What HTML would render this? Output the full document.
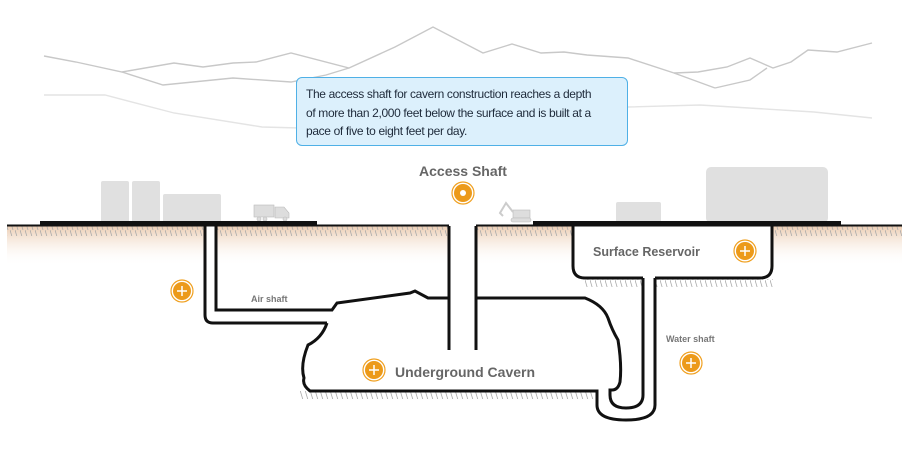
<!DOCTYPE html>
<html><head><meta charset="utf-8"><style>
html,body{margin:0;padding:0;background:#fff;}
svg{display:block;font-family:"Liberation Sans",sans-serif;}
.tip{position:absolute;left:296px;top:77px;width:314px;height:53px;padding:7px 7px 7px 9px;background:#dcf0fc;border:1px solid #4fb0e6;border-radius:6px;font:12px/18.5px "Liberation Sans",sans-serif;color:#1e2a3a;letter-spacing:-0.35px;white-space:nowrap}
</style></head><body>
<div style="position:relative;width:909px;height:468px;overflow:hidden">
<svg width="909" height="468" viewBox="0 0 909 468">
<defs>
<linearGradient id="soil" x1="0" y1="0" x2="0" y2="1"><stop offset="0" stop-color="#eccdb3"/><stop offset="1" stop-color="#fff" stop-opacity="0"/></linearGradient>
<pattern id="hatch" width="5" height="10" patternUnits="userSpaceOnUse"><line x1="0" y1="0" x2="3" y2="10" stroke="#aaa" stroke-width="0.8"/></pattern>
<g id="ic"><circle r="11" fill="#fff" stroke="#f0a020" stroke-width="1.2"/><circle r="9" fill="#ec9a1a"/><path d="M-5 0H5M0 -5V5" stroke="#fff" stroke-width="1.5"/></g>
</defs>
<g fill="none" stroke="#c8c8c8" stroke-width="1.4">
<polyline points="44,56 76,62 122,72 174,63 203,67 233,63 256,62 291,53 349,68 395,47 433,27 483,53 512,44 541,53 564,52 587,55 628,58 674,73 715,88"/>
<polyline points="674,73 698,72 727,67 750,58 773,68 791,62 808,50 837,52 872,43"/>
<polyline points="715,88 750,80 767,68"/>
<polyline points="122,72 163,85 233,78 291,82 326,75 349,68"/>
</g>
<polyline fill="none" stroke="#e4e4e4" stroke-width="1.4" points="44,95 105,95 174,113 262,127 300,128 628,107 700,105 814,112 872,118"/>
<rect x="7" y="226" width="895" height="40" fill="url(#soil)"/>
<rect x="7" y="226" width="895" height="10" fill="url(#hatch)"/>
<rect x="300" y="391" width="300" height="8" fill="url(#hatch)"/>
<rect x="583" y="279" width="190" height="8" fill="url(#hatch)"/>
<path d="M205,226 V315 Q205,323 213,323 H327 Q322,338 308,345 Q300,365 305,386 Q306,391 312,391 H597 V405 Q597,418 626,420 Q655,418 655,405 V278 H760 Q772,278 772,266 V226 H573 V266 Q573,278 585,278 H643 V405 Q643,408 626,408 Q610,408 610,395 L617,390 Q622,360 618,340 Q612,320 590,298 H476 V226 H449 V298 H428 L415,291 L337,303 L332,310 H216 V226 Z" fill="#fff"/>
<g fill="#e0e0e0">
<rect x="101" y="181" width="28" height="42" rx="2"/><rect x="132" y="181" width="28" height="42" rx="2"/><rect x="163" y="194" width="58" height="29" rx="2"/>
<rect x="616" y="202" width="45" height="21" rx="2"/><rect x="706" y="167" width="122" height="56" rx="5"/>
</g>
<g fill="#ddd" stroke="#bbb" stroke-width="0.6"><rect x="254" y="205" width="20" height="12"/><path d="M275,207 H284 L289,213 V218 H275 Z"/><circle cx="259" cy="219" r="2"/><circle cx="265" cy="219" r="2"/><circle cx="285" cy="219" r="2"/></g>
<g fill="#ddd" stroke="#bbb" stroke-width="0.6"><rect x="513" y="210" width="17" height="8"/><rect x="511" y="218" width="20" height="4" rx="2"/><path d="M513,212 L506,203 L500,213 L503,216" fill="none" stroke="#ccc" stroke-width="2"/></g>
<g stroke="#111" fill="none">
<rect x="40" y="221" width="277" height="4" fill="#111" stroke="none"/>
<rect x="533" y="221" width="308" height="4" fill="#111" stroke="none"/>
<path d="M7,225.5 H449 M476,225.5 H902" stroke-width="2"/>
<g stroke-width="3">
<path d="M205,226 V315 Q205,323 213,323 H327"/>
<path d="M216,226 V310 H332 L337,303 L410,293 L415,291 L428,298 H449"/>
<path d="M449,226 V350 M476,226 V350"/>
<path d="M476,298 H585 Q603,305 608,318 Q612,330 618,340 Q622,365 620,382 Q618,390 612,390 H610 V395 Q610,408 626,408 Q643,408 643,395 V278"/>
<path d="M327,323 Q322,338 308,345 Q300,365 304,378 Q302,385 310,391 H597 V405 Q597,420 626,420 Q655,420 655,405 V278"/>
<path d="M573,226 V266 Q573,278 585,278 H643 M655,278 H760 Q772,278 772,266 V226"/>
</g>
</g>
<use href="#ic" x="182" y="291"/>
<use href="#ic" x="374" y="370"/>
<use href="#ic" x="745" y="251"/>
<use href="#ic" x="691" y="363"/>
<g transform="translate(463,193)"><circle r="11" fill="#fff" stroke="#f0a020" stroke-width="1.2"/><circle r="9" fill="#ec9a1a"/><circle r="3" fill="#fff"/></g>
<g fill="#666" font-weight="bold">
<text x="463" y="176" font-size="14" text-anchor="middle">Access Shaft</text>
<text x="395" y="377" font-size="14">Underground Cavern</text>
<text x="593" y="256" font-size="12.5">Surface Reservoir</text>
<text x="251" y="302" font-size="9" fill="#777">Air shaft</text>
<text x="666" y="342" font-size="9" fill="#777">Water shaft</text>
</g>
</svg>
<div class="tip">The access shaft for cavern construction reaches a depth<br>of more than 2,000 feet below the surface and is built at a<br>pace of five to eight feet per day.</div>
</div>
</body></html>
